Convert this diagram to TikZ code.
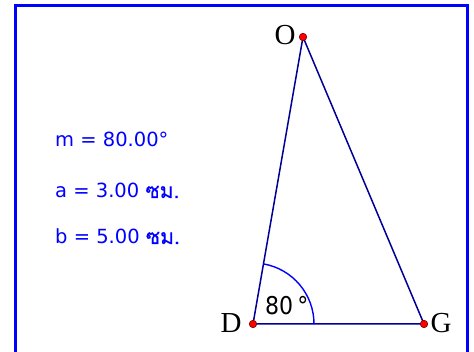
\documentclass[tikz,border=0pt]{standalone}
\usepackage{fontspec}
\setmainfont{Liberation Serif}
\newfontfamily\labsans{DejaVu Sans}
\newfontfamily\labsansc{DejaVu Sans Condensed}
\newfontfamily\thaifont[Script=Thai,FakeBold=0.4]{Loma}
\definecolor{navy}{RGB}{0,0,150}
\definecolor{pblue}{RGB}{0,0,255}
\begin{document}
\begin{tikzpicture}[x=1pt,y=-1pt,
  vertex/.style={circle,fill=red,draw=red!50!black,line width=0.6pt,inner sep=0pt,minimum size=7.5pt},
  side/.style={draw=navy,line width=1.5pt},
  ptlabel/.style={font=\fontsize{29}{29}\selectfont,anchor=base,inner sep=0pt},
  meas/.style={font=\labsans\fontsize{19.5}{19.5}\selectfont,text=pblue,anchor=base west,inner sep=0pt}]
\useasboundingbox (0,0) rectangle (474,352);
\fill[white] (0,0) rectangle (474,352);
\draw[pblue,line width=3pt] (15,380) -- (15,6) -- (467,6) -- (467,380);
\coordinate (D) at (253,324);
\coordinate (G) at (424,324);
\coordinate (O) at (303,37);
\draw[side] (D) -- (G) -- (O) -- (D);
\draw[pblue,line width=1.4pt] ([shift={(0:61)}]D) arc[start angle=0,end angle=-80,radius=61];
\node[vertex] (nD) at (D) {};
\node[vertex] (nG) at (G) {};
\node[vertex] (nO) at (O) {};
\node[ptlabel] (lD) at (231,333) {D};
\node[ptlabel] (lG) at (441,333) {G};
\node[ptlabel] (lO) at (285,45) {O};
\node[meas,text=black,font=\labsansc\fontsize{24.5}{24.5}\selectfont] (ang) at (265,315) {80\,°};
\node[meas] (m) at (55,147) {m = 80.00°};
\node[meas] (a) at (55,198) {a = 3.00 {\thaifont\fontsize{21}{21}\selectfont ซม.}};
\node[meas] (b) at (55,244) {b = 5.00 {\thaifont\fontsize{21}{21}\selectfont ซม.}};
\end{tikzpicture}
\end{document}
